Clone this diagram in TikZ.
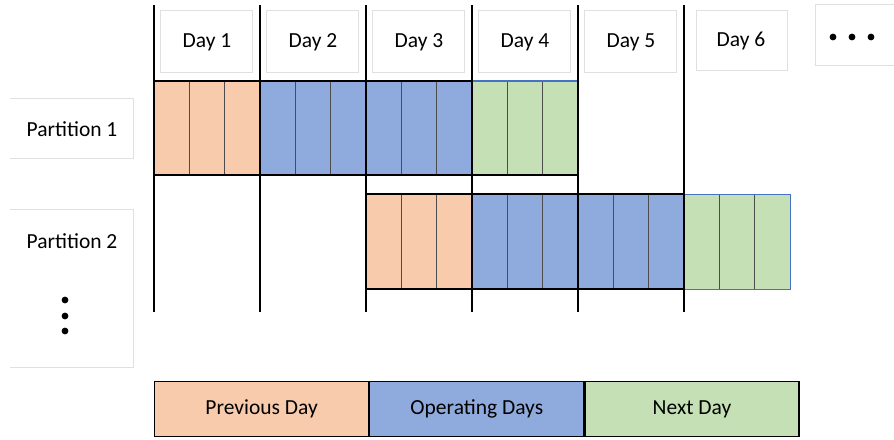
\documentclass[tikz,border=0pt]{standalone}
\usepackage{fontspec}
\setmainfont{Carlito}
\definecolor{prevc}{HTML}{F8CBAD}
\definecolor{opc}{HTML}{8FAADC}
\definecolor{nextc}{HTML}{C5E0B4}
\definecolor{edgeb}{HTML}{4472C4}
\definecolor{lbox}{HTML}{E0E0E0}
\begin{document}
\begin{tikzpicture}[x=1pt,y=-1pt,
  lab/.style={font=\fontsize{21.5}{25}\selectfont, inner sep=0pt},
  daybox/.style={draw=lbox, line width=0.8pt},
  cellline/.style={draw=black!70, line width=0.7pt},
  outer/.style={draw=black, line width=1.4pt},
  dayline/.style={draw=black, line width=1.6pt},
  legbox/.style={draw=black, line width=1.2pt, minimum height=55pt, minimum width=214pt, inner sep=0pt, font=\fontsize{21.5}{25}\selectfont}]
\useasboundingbox (0,0) rectangle (894,439);
% Partition label boxes
\draw[lbox, line width=0.8pt] (10,98) -- (133,98) -- (133,158) -- (10,158);
\draw[lbox, line width=0.8pt] (10,209) -- (133,209) -- (133,367) -- (10,367);
\node[lab] (p1) at (72,129) {Partition 1};
\node[lab] (p2) at (72,241) {Partition 2};
\foreach \yy/\nm in {300/d1,316/d2,331/d3}
  \fill (65,\yy) circle (3.4pt);
% Day boxes
\foreach \i in {1,...,5} {
  \pgfmathsetmacro{\xl}{154+106*(\i-1)+6}
  \pgfmathsetmacro{\xr}{154+106*(\i-1)+98}
  \pgfmathsetmacro{\xc}{154+106*(\i-1)+53}
  \draw[daybox] (\xl,10) rectangle (\xr,72);
  \node[lab] (day\i) at (\xc,42) {Day \i};
}
\draw[daybox] (696,10) rectangle (787,70);
\node[lab] (day6) at (741,41) {Day 6};
\draw[daybox] (894,4) -- (815,4) -- (815,65) -- (894,65);
\foreach \xx in {833,852,871}
  \fill (\xx,37) circle (3.4pt);
% Partition 1 blocks
\fill[prevc] (154,81) rectangle (260,175);
\fill[opc] (260,81) rectangle (472,175);
\fill[nextc] (472,81) rectangle (578,175);
% Partition 2 blocks
\fill[prevc] (366,194) rectangle (472,289);
\fill[opc] (472,194) rectangle (684,289);
\fill[nextc] (684,194) rectangle (790,289);
% subcell lines
\foreach \d in {154,260,366,472} {
  \draw[cellline] ({\d+35.3},81) -- ({\d+35.3},175);
  \draw[cellline] ({\d+70.7},81) -- ({\d+70.7},175);
}
\foreach \d in {366,472,578,684} {
  \draw[cellline] ({\d+35.3},194) -- ({\d+35.3},289);
  \draw[cellline] ({\d+70.7},194) -- ({\d+70.7},289);
}
% block borders
\draw[outer] (154,81) -- (472,81);
\draw[edgeb, line width=1.2pt] (472,81) -- (578,81);
\draw[outer] (154,175) -- (578,175);
\draw[outer] (366,194) -- (684,194);
\draw[outer] (366,289) -- (684,289);
\draw[edgeb, line width=1pt] (684,194) -- (790,194) -- (790,289) -- (684,289);
% day lines
\foreach \xx in {154,260,366,472,578,684}
  \draw[dayline] (\xx,5) -- (\xx,312);
% Legend
\node[legbox, fill=prevc, anchor=north west] (lprev) at (154,381) {Previous Day};
\node[legbox, fill=opc, anchor=west] (lop) at (lprev.east) {Operating Days};
\node[legbox, fill=nextc, anchor=west] (lnext) at (lop.east) {Next Day};
\end{tikzpicture}
\end{document}
